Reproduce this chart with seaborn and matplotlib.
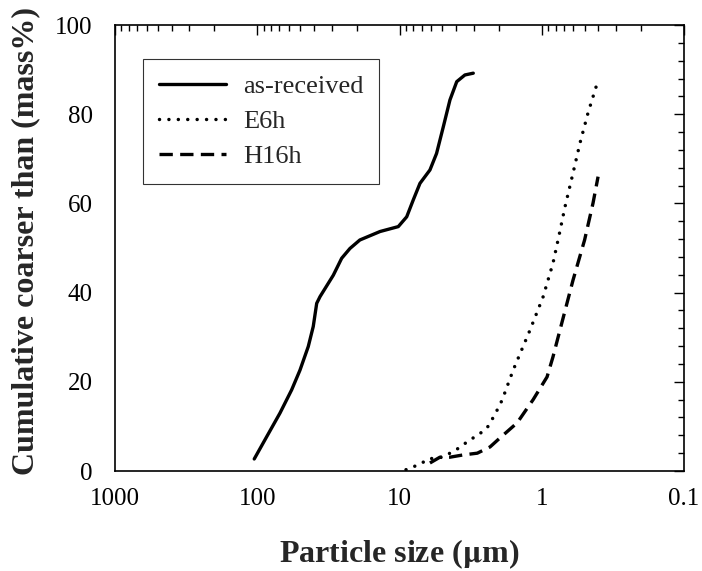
import numpy as np
import pandas as pd
import matplotlib
matplotlib.use("Agg")
import matplotlib.pyplot as plt
import seaborn as sns
from matplotlib.ticker import LogLocator, FixedLocator, MultipleLocator

sns.set_theme(style="white")
plt.rcParams['font.family'] = ['Liberation Serif', 'DejaVu Serif']
plt.rcParams['mathtext.fontset'] = 'stix'

# particle size (um) vs cumulative coarser than (mass%)
asrec_size = [105, 85.8, 69.2, 57.3, 50.1, 43.8, 40.4, 38.2, 36.2, 29.2, 25.5,
              22.3, 19.0, 13.7, 10.2, 8.9, 8.0, 7.18, 6.11, 5.49, 4.92, 4.42,
              3.96, 3.47, 3.03]
asrec_pct = [2.7, 7.7, 13.0, 18.2, 22.6, 27.9, 32.4, 37.6, 39.1, 43.9, 47.7,
             49.9, 51.8, 53.7, 54.8, 57.0, 60.8, 64.5, 67.5, 71.2, 77.2, 83.2,
             87.3, 88.8, 89.2]

e6h_size = [9.0, 8.04, 6.95, 6.3, 5.0, 4.42, 3.94, 3.19, 2.8, 2.43, 2.14, 1.9,
            1.59, 1.21, 0.98, 0.834, 0.76, 0.687, 0.603, 0.539, 0.473, 0.409]
e6h_pct = [0.3, 0.9, 1.8, 2.7, 3.1, 4.0, 4.9, 7.0, 8.1, 9.6, 12.6, 15.9,
           22.6, 31.6, 39, 46.6, 52.5, 59.2, 66.8, 73.5, 80.3, 86.8]

h16h_size = [6.11, 5.2, 4.42, 3.58, 2.84, 2.31, 1.97, 1.49, 1.15, 0.918, 0.834,
             0.745, 0.603, 0.50, 0.436, 0.402]
h16h_pct = [1.8, 3.1, 3.1, 3.6, 4.0, 5.4, 7.4, 10.8, 16.0, 21.1, 25.6,
            31.6, 42.8, 51.8, 60.1, 66.0]

series = [
    ("as-received", asrec_size, asrec_pct, dict(linestyle="-", lw=2.4, solid_capstyle="round")),
    ("E6h", e6h_size, e6h_pct, dict(linestyle=(0, (0.01, 2.7)), lw=2.5, dash_capstyle="round")),
    ("H16h", h16h_size, h16h_pct, dict(linestyle=(0, (4.0, 2.2)), lw=2.4, dash_capstyle="butt")),
]

fig = plt.figure(figsize=(7.02, 5.71), dpi=100)
ax = fig.add_axes([0.1638, 0.1751, 0.8106, 0.7811])

for name, xs, ys, style in series:
    df = pd.DataFrame({"size": xs, "pct": ys})
    sns.lineplot(data=df, x="size", y="pct", sort=False, estimator=None, ax=ax,
                 color="black", label=name, **style)

ax.set_xscale("log")
ax.set_xlim(1000, 0.1)
ax.set_ylim(0, 100)
ax.xaxis.set_major_locator(FixedLocator([1000, 100, 10, 1, 0.1]))
ax.xaxis.set_minor_locator(LogLocator(base=10, subs=np.arange(2, 10), numticks=20))
ax.set_xticklabels(["1000", "100", "10", "1", "0.1"])
ax.yaxis.set_major_locator(MultipleLocator(20))
ax.yaxis.set_minor_locator(MultipleLocator(4))

ax.tick_params(which="both", direction="in", top=True, right=True, colors="black",
               labelsize=18, width=1)
ax.tick_params(which="major", length=7)
ax.tick_params(which="minor", length=4)
ax.tick_params(axis="x", which="major", pad=12)
ax.tick_params(axis="y", which="major", pad=16)
for sp in ax.spines.values():
    sp.set_color("black")
    sp.set_linewidth(1.2)

ax.set_xlabel("Particle size ($\\mathbf{\\mu}$m)", fontsize=23, fontweight="bold")
ax.set_ylabel("Cumulative coarser than (mass%)", fontsize=23, fontweight="bold")
ax.xaxis.set_label_coords(0.5, -0.148)
ax.yaxis.set_label_coords(-0.132, 0.516)

leg = ax.legend(loc="upper left", bbox_to_anchor=(0.049, 0.924), fontsize=19,
                frameon=True, fancybox=False, shadow=False, handlelength=2.55,
                borderpad=0.6, labelspacing=0.44, handletextpad=0.65, borderaxespad=0)
leg.get_frame().set_edgecolor("black")
leg.get_frame().set_linewidth(0.8)

fig.savefig("out.png", dpi=100)
